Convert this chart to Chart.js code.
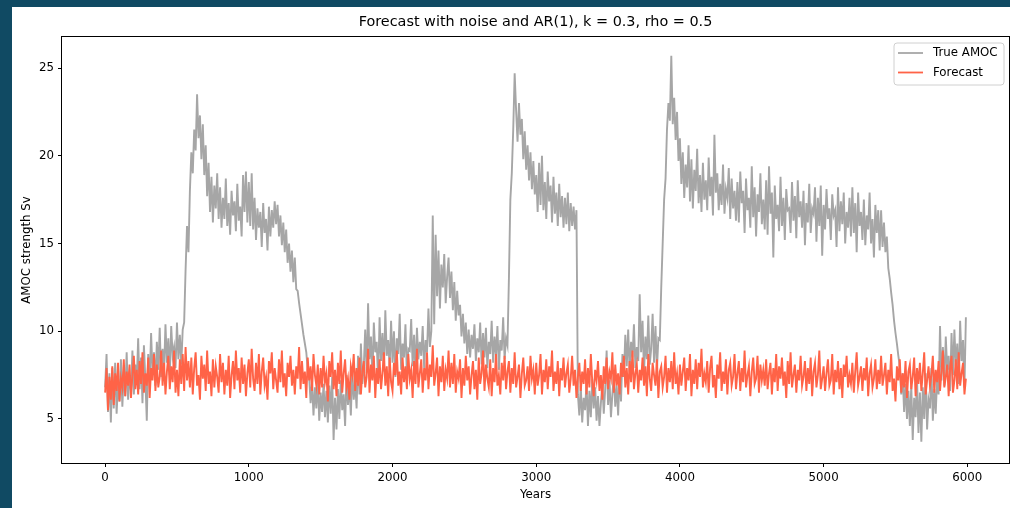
<!DOCTYPE html>
<html><head><meta charset="utf-8">
<script src="https://cdn.jsdelivr.net/npm/chart.js@4.4.1/dist/chart.umd.min.js"></script>
<style>
html,body{margin:0;padding:0;background:#104a63;width:1010px;height:508px;overflow:hidden}
#wrap{position:absolute;left:12px;top:7px;width:998px;height:501px;background:#fff}
canvas{display:block}
</style></head><body>
<div id="wrap"><canvas id="c" width="998" height="501"></canvas></div>
<script>
const yearStart = 0;
const yearStep = 10;
const chartTitle = 'Forecast with noise and AR(1), k = 0.3, rho = 0.5';
const seriesNames = ['True AMOC', 'Forecast'];
const xTitle = 'Years';
const yTitle = 'AMOC strength Sv';
const xTicks = [0, 1000, 2000, 3000, 4000, 5000, 6000];
const yTicks = [5, 10, 15, 20, 25];

const trueAmoc = [
6.8,8.7,5.4,7.6,4.8,7.9,5.6,8.2,5.3,7.1,6.0,8.4,5.7,7.7,6.3,8.8,6.1,7.5,6.6,8.9,
6.4,8.1,7.0,9.6,6.7,8.5,5.9,9.2,7.3,4.9,8.7,7.1,9.9,7.6,8.8,6.9,9.4,7.8,10.2,7.4,
9.0,7.7,10.4,8.2,9.6,7.5,10.3,8.6,9.1,7.9,10.5,8.4,9.8,8.1,10.1,10.5,13.5,16.0,14.5,18.0,
20.2,19.0,21.5,20.3,23.5,21.0,22.3,19.8,21.8,18.9,20.6,17.7,19.6,16.8,18.8,16.2,18.3,17.0,19.0,16.4,
18.2,15.9,17.6,16.4,18.7,16.0,17.3,15.5,18.0,16.6,17.4,15.7,18.4,16.3,17.1,15.4,18.9,16.8,19.1,16.2,
18.5,16.0,19.0,15.8,17.6,15.2,17.0,15.9,16.8,14.8,17.3,15.6,16.4,14.6,17.1,15.4,16.9,15.9,17.4,16.1,
17.2,15.4,16.6,14.9,16.2,14.5,15.8,13.9,15.0,13.4,14.6,12.8,14.2,12.4,12.3,11.6,11.0,10.4,9.8,9.3,
8.8,7.8,7.4,5.9,7.1,5.2,6.8,5.6,7.3,4.9,6.5,5.4,7.0,5.1,6.6,4.8,6.9,5.3,7.4,3.8,
6.2,4.4,6.7,5.0,7.2,5.5,6.4,4.6,7.5,5.8,6.9,5.2,7.8,6.1,7.1,5.6,8.6,6.4,9.3,7.0,
8.0,10.1,7.6,11.6,8.4,9.7,7.3,10.5,8.8,9.4,7.1,10.8,8.3,9.9,7.7,11.2,8.6,9.5,7.9,10.6,
8.2,10.0,7.4,9.6,8.7,11.0,7.8,9.3,8.5,10.4,7.5,9.0,8.9,10.7,8.0,9.8,7.6,10.2,8.4,9.4,
8.6,10.3,7.9,9.5,8.8,11.3,9.1,10.0,16.6,10.4,15.5,12.0,14.6,11.3,13.8,12.5,14.4,11.6,13.1,14.2,
11.9,13.4,11.2,12.8,10.6,12.3,10.9,11.5,9.7,11.0,9.3,10.5,8.7,10.1,8.5,9.8,9.0,10.4,8.3,9.6,
8.8,10.5,8.1,9.9,8.5,10.2,7.9,9.4,8.7,10.6,8.2,9.7,8.6,10.3,7.8,9.5,8.9,10.8,8.4,9.6,
9.2,13.0,17.5,19.0,21.5,24.7,22.6,20.8,23.0,21.2,22.1,19.8,21.4,19.2,20.6,18.6,20.2,18.1,19.7,17.8,
18.9,16.8,19.6,17.2,20.0,16.9,18.5,16.4,19.1,17.4,18.3,16.2,18.8,16.7,17.9,16.0,18.4,16.5,17.7,15.9,
17.6,16.1,17.9,15.7,17.3,16.0,17.1,15.8,16.9,6.4,5.2,6.9,4.8,6.2,5.5,7.1,4.6,6.6,5.1,7.3,
5.6,6.8,4.9,6.3,4.6,5.9,7.0,5.3,6.7,8.9,5.8,7.2,5.1,6.4,7.5,5.7,6.9,5.2,7.4,6.0,
8.7,7.4,9.8,8.0,10.1,7.7,9.4,8.5,10.4,7.9,9.1,8.3,12.1,8.8,10.6,7.6,9.7,8.4,10.9,8.1,
9.0,11.0,8.2,10.3,7.8,9.6,9.5,12.5,15.0,17.5,18.7,21.5,23.0,22.0,25.7,21.8,23.3,20.9,22.5,19.7,
21.0,18.4,20.2,17.6,19.5,18.2,20.6,17.4,19.8,17.0,19.2,18.0,20.4,17.3,18.9,16.8,19.6,17.5,18.6,16.9,
19.9,17.7,18.8,16.6,21.2,17.9,19.0,16.9,18.4,17.2,19.5,16.7,18.1,17.6,19.3,16.4,18.7,17.0,18.0,16.3,
18.5,16.2,19.1,17.3,18.0,15.6,18.7,16.9,17.6,15.9,19.4,16.5,18.2,15.4,17.8,16.8,19.0,16.1,17.5,15.8,
18.6,15.5,19.4,16.7,17.9,14.2,18.3,16.4,17.2,15.7,18.8,16.0,17.6,15.2,18.1,16.9,17.0,15.6,18.5,16.3,
17.7,15.3,18.6,16.5,17.4,15.9,18.0,14.9,17.3,16.2,18.4,15.6,17.0,16.7,18.2,15.1,17.6,16.0,18.3,14.3,
17.2,15.8,18.1,16.4,17.0,15.2,17.8,16.6,16.9,14.8,18.2,15.7,17.4,16.1,17.9,15.0,16.8,15.9,17.6,15.4,
18.2,15.6,17.3,14.5,17.9,16.0,16.8,15.2,17.5,14.9,16.6,15.8,17.9,15.0,16.4,14.2,17.2,15.6,16.9,14.6,
16.9,14.8,16.2,14.5,15.4,13.6,13.0,12.2,11.5,10.6,9.9,9.3,8.6,8.0,6.4,7.6,5.4,7.0,5.0,6.6,
4.6,6.9,3.8,6.2,5.1,7.3,4.2,6.5,3.7,6.8,5.0,7.6,4.4,6.1,5.6,7.9,4.9,6.7,5.3,7.4,
6.4,10.3,7.2,9.1,6.9,9.7,7.8,8.6,6.6,9.9,7.5,10.1,8.0,9.3,7.0,10.6,8.3,9.5,6.8,10.8
];

const forecast = [
6.5,7.9,5.5,7.4,6.1,8.0,5.8,7.6,6.6,8.2,6.0,7.3,6.8,8.4,6.3,7.7,6.9,8.1,6.2,7.5,
8.6,6.7,7.8,6.4,8.3,7.0,8.8,6.5,7.6,6.9,8.5,6.2,7.9,7.2,8.7,6.6,8.1,6.8,7.4,8.9,
6.9,8.2,6.4,7.7,8.6,6.7,8.0,7.1,8.9,6.5,7.8,6.3,8.4,7.0,8.7,6.6,9.1,7.2,8.3,6.8,
8.5,6.4,7.9,8.8,6.9,7.5,6.1,8.6,7.3,8.1,6.6,8.9,7.0,7.7,6.3,8.4,6.8,8.0,7.4,6.5,
8.7,7.1,8.2,6.4,7.8,6.9,8.6,6.2,7.5,8.3,6.7,8.9,7.2,7.9,6.5,8.5,7.0,8.1,6.3,7.6,
8.4,6.8,9.0,7.3,6.6,8.2,7.0,8.7,6.4,7.7,8.5,6.9,7.4,6.1,8.3,7.6,8.8,6.7,7.9,7.2,
6.5,8.4,7.1,8.9,6.8,7.6,6.3,8.2,7.4,8.6,6.9,7.8,6.4,8.0,7.3,9.1,6.7,8.3,7.0,7.7,
6.2,8.5,7.2,8.0,6.6,8.7,7.5,6.9,8.1,6.4,7.9,6.8,8.6,7.1,7.6,6.0,8.3,7.4,8.8,6.7,
7.8,6.3,8.2,7.0,8.9,6.5,7.6,8.4,6.8,7.3,6.1,8.0,7.5,8.7,6.6,7.9,6.9,8.5,6.4,7.7,
8.3,6.8,7.4,9.0,6.5,8.1,7.2,8.6,6.2,7.9,7.0,8.4,6.7,7.6,8.8,6.9,8.0,6.3,8.5,7.1,
6.6,8.2,7.5,8.9,6.9,7.7,6.4,8.5,7.1,8.0,6.7,8.7,7.3,7.8,6.2,8.3,7.0,9.0,6.8,7.6,
8.4,6.5,7.9,7.2,8.8,6.7,8.1,7.4,9.2,6.9,7.6,8.5,6.3,8.0,7.1,8.6,6.6,7.8,7.3,8.9,
6.8,8.2,7.0,8.7,6.5,7.7,7.3,8.4,6.2,7.9,6.9,8.6,7.2,8.0,6.4,7.5,8.3,6.7,7.8,6.1,
8.5,7.0,7.6,8.9,6.6,8.1,7.3,6.8,8.4,6.3,7.9,7.1,8.7,6.9,7.5,6.4,8.2,7.2,8.6,6.7,
7.7,8.3,6.5,7.9,7.0,8.8,6.8,7.4,8.1,6.2,7.6,8.5,6.9,7.2,8.0,6.6,8.6,7.3,7.8,6.4,
8.2,6.9,7.5,8.7,6.4,7.8,7.1,8.4,6.7,8.0,7.4,8.9,6.6,7.7,7.0,8.3,6.3,7.9,7.2,8.5,
6.8,7.6,8.1,6.5,7.3,8.6,6.9,7.8,6.2,7.4,8.2,6.6,7.7,7.0,8.4,6.4,7.9,6.8,8.7,7.1,
6.3,7.8,7.2,8.3,6.6,7.5,6.1,8.0,7.0,8.5,6.7,7.7,7.3,8.8,6.5,8.1,6.9,7.6,6.4,8.2,
7.4,8.6,6.8,7.9,6.4,8.3,7.1,8.9,6.7,7.6,8.1,6.5,7.8,7.2,8.5,6.9,8.0,6.3,8.7,7.3,
6.6,8.2,7.5,6.9,8.4,6.2,7.7,8.0,6.8,7.4,8.6,6.5,7.9,7.1,8.3,6.7,8.8,7.0,7.6,6.4,
8.1,6.9,7.7,8.5,6.6,7.9,7.2,8.7,6.3,7.8,7.0,8.4,6.7,8.2,7.4,9.0,6.8,7.6,7.1,8.3,
6.5,7.9,8.6,6.8,7.5,6.2,8.1,7.3,8.8,6.6,7.7,7.0,8.4,6.4,7.8,8.2,6.9,7.4,8.7,6.7,
7.6,8.3,6.6,7.9,7.1,8.9,6.8,7.5,8.0,6.3,7.7,8.5,7.0,7.3,8.6,6.5,8.1,7.2,7.8,6.9,
8.4,6.7,7.6,8.2,6.4,7.9,7.1,8.7,6.6,8.0,7.3,8.5,6.9,7.7,6.2,8.3,7.0,8.8,6.8,7.5,
8.1,6.5,7.8,7.2,8.6,6.9,7.4,8.3,6.6,7.9,7.0,8.5,6.3,7.7,8.2,6.8,7.5,8.9,6.7,7.3,
8.0,6.6,7.6,8.4,6.9,7.2,8.7,6.4,7.8,7.1,8.3,6.7,7.9,6.2,8.1,7.4,8.6,6.8,7.5,7.0,
8.2,6.5,7.7,8.8,6.9,7.4,8.0,6.6,7.9,7.2,8.5,6.3,7.6,8.1,6.8,7.3,8.4,6.7,7.8,7.0,
8.6,6.9,7.5,8.2,6.4,7.8,7.1,8.7,6.6,7.3,6.0,8.0,7.2,8.4,6.5,7.6,6.8,8.3,6.2,7.7,
8.1,6.7,7.4,8.5,6.3,7.9,7.0,8.2,6.6,7.6,8.8,6.4,7.2,8.0,6.9,7.5,8.6,6.5,7.8,7.1,
8.3,6.6,7.7,8.9,6.8,7.4,8.1,6.3,7.9,8.6,6.5,7.2,8.4,6.7,8.8,6.9,7.6,8.2,6.4,7.3
];

const years = trueAmoc.map((_, i) => yearStart + i * yearStep);

const FONT = "'DejaVu Sans', 'Liberation Sans', sans-serif";
Chart.defaults.font.family = FONT;
Chart.defaults.color = '#000';

const framePlugin = {
  id: 'frame',
  afterDatasetsDraw(chart) {
    const a = chart.chartArea, c = chart.ctx;
    c.save();
    c.strokeStyle = '#000';
    c.lineWidth = 1;
    c.strokeRect(Math.round(a.left) - 0.5, Math.round(a.top) - 0.5,
                 Math.round(a.right - a.left) + 1, Math.round(a.bottom - a.top) + 1);
    c.restore();
  }
};

const titlePlugin = {
  id: 'ptitle',
  afterDraw(chart) {
    const a = chart.chartArea, c = chart.ctx;
    c.save();
    c.font = "14.4px " + FONT;
    c.fillStyle = '#000';
    c.textAlign = 'center';
    c.textBaseline = 'middle';
    c.fillText(chartTitle, (a.left + a.right) / 2, 15);
    c.restore();
  }
};

const legendPlugin = {
  id: 'plegend',
  afterDraw(chart) {
    const a = chart.chartArea, c = chart.ctx;
    const colors = ['#a6a6a6', '#ff6347'];
    const x0 = a.right - 115, y0 = a.top + 6, w = 110, h = 42, r = 3;
    c.save();
    c.beginPath();
    c.moveTo(x0 + r, y0);
    c.arcTo(x0 + w, y0, x0 + w, y0 + h, r);
    c.arcTo(x0 + w, y0 + h, x0, y0 + h, r);
    c.arcTo(x0, y0 + h, x0, y0, r);
    c.arcTo(x0, y0, x0 + w, y0, r);
    c.closePath();
    c.fillStyle = 'rgba(255,255,255,0.8)';
    c.fill();
    c.strokeStyle = '#d0d0d0';
    c.lineWidth = 1;
    c.stroke();
    c.font = "11.8px " + FONT;
    c.textBaseline = 'middle';
    c.textAlign = 'left';
    seriesNames.forEach((name, i) => {
      const yy = y0 + 10 + i * 19.5;
      c.strokeStyle = colors[i];
      c.lineWidth = 1.8;
      c.beginPath();
      c.moveTo(x0 + 4, yy);
      c.lineTo(x0 + 29, yy);
      c.stroke();
      c.fillStyle = '#000';
      c.fillText(name, x0 + 39, yy);
    });
    c.restore();
  }
};

new Chart(document.getElementById('c'), {
  type: 'line',
  data: {
    datasets: [
      { label: seriesNames[1], data: years.map((x, i) => ({ x: x, y: forecast[i] })),
        borderColor: '#ff6347', borderWidth: 1.9, pointRadius: 0, tension: 0, order: 0 },
      { label: seriesNames[0], data: years.map((x, i) => ({ x: x, y: trueAmoc[i] })),
        borderColor: '#a6a6a6', borderWidth: 1.9, pointRadius: 0, tension: 0, order: 1 }
    ]
  },
  options: {
    responsive: false,
    animation: false,
    devicePixelRatio: 1,
    parsing: false,
    events: [],
    layout: { padding: { top: 30, right: 1, left: 0, bottom: 0 } },
    plugins: { legend: { display: false }, tooltip: { enabled: false }, title: { display: false } },
    scales: {
      x: {
        type: 'linear', min: -300, max: 6290,
        afterBuildTicks: s => { s.ticks = xTicks.map(v => ({ value: v })); },
        afterFit: s => { s.height = 45; },
        grid: { drawOnChartArea: false, drawTicks: true, tickLength: 4, tickColor: '#000', tickWidth: 1 },
        border: { display: false },
        ticks: { font: { size: 11.8 }, color: '#000', padding: 4, maxRotation: 0, autoSkip: false,
                 callback: v => String(v) },
        title: { display: true, text: xTitle, font: { size: 11.8 }, color: '#000', padding: { top: 0, bottom: 6 } }
      },
      y: {
        type: 'linear', min: 2.49, max: 26.77,
        afterBuildTicks: s => { s.ticks = yTicks.map(v => ({ value: v })); },
        afterFit: s => { s.width = 50; },
        grid: { drawOnChartArea: false, drawTicks: true, tickLength: 4, tickColor: '#000', tickWidth: 1 },
        border: { display: false },
        ticks: { font: { size: 11.8 }, color: '#000', padding: 4, callback: v => String(v) },
        title: { display: true, text: yTitle, font: { size: 11.8 }, color: '#000', padding: { top: 8, bottom: 0 } }
      }
    }
  },
  plugins: [framePlugin, titlePlugin, legendPlugin]
});
</script>
</body></html>
